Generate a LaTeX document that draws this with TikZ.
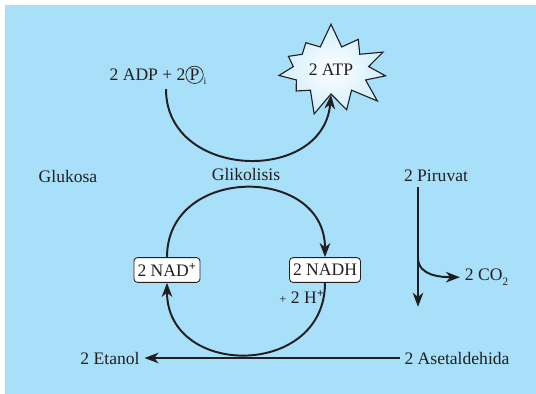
\documentclass[tikz,border=0pt]{standalone}
\usepackage{fontspec}
\setmainfont{Liberation Serif}
\usetikzlibrary{arrows.meta,shapes.symbols}

\definecolor{skyblue}{RGB}{168,224,249}
\definecolor{ink}{RGB}{35,31,32}
\newcommand{\circP}{\tikz[baseline=(cp.base)] \node [draw=ink,circle,inner sep=0.6pt,line width=0.5pt] (cp) {P};}

\begin{document}
\begin{tikzpicture}[
    every node/.style={text=ink,font=\fontsize{12.5}{14}\selectfont},
    arr/.style={draw=ink,line width=1.4pt,-{Stealth[length=10pt,width=7.5pt,inset=3pt]}},
    nadbox/.style={draw=ink,fill=white,rounded corners=2.5pt,line width=0.6pt,inner sep=2.5pt,minimum height=0.62cm}
]
    \useasboundingbox (0,0) rectangle (13.4,9.85);
    \fill [skyblue] (0.125,0) rectangle (13.4,9.725);

    % ATP yield
    \node (adp) at (3.95,7.975) {2 ADP + 2\circP\raisebox{-0.45ex}{\scriptsize i}};
    \node [starburst,starburst points=11,starburst point height=0.6cm,random starburst=7,
           draw=ink,line width=0.8pt,inner color=white,outer color=skyblue!55!white,
           minimum width=2.0cm,minimum height=2.4cm] (atp) at (8.275,8.1) {2 ATP};
    \coordinate (atpin) at ([yshift=-0.62cm]atp.center);
    \draw [arr] ([xshift=0.2cm]adp.south) to [out=-90,in=-95,looseness=1.4] (atpin);

    \node (glukosa) at (1.7,5.45) {Glukosa};
    \node (glikolisis) at (6.15,5.5) {Glikolisis};
    \node (piruvat) at (10.9,5.45) {2 Piruvat};

    % NAD cycle
    \node [nadbox] (nad) at (4.175,3.1) {2 NAD\textsuperscript{\textbf{+}}};
    \node [nadbox] (nadh) at (8.125,3.1) {2 NADH};
    \node (hplus) at (7.55,2.425) {{\small +} 2 H\textsuperscript{\textbf{+}}};
    \draw [arr] (nad.north) to [out=90,in=90,looseness=1.5] (nadh.north);
    \draw [arr] (nadh.south) to [out=-90,in=-90,looseness=1.55] (nad.south);

    % pyruvate to acetaldehyde
    \coordinate (split) at (10.45,3.4);
    \coordinate (drop) at (10.45,2.18);
    \node [anchor=west] (co2) at (11.5,2.92) {2 CO\raisebox{-0.5ex}{\footnotesize 2}};
    \draw [arr] (piruvat.south -| split) -- (drop);
    \draw [arr] (split) to [out=-90,in=180] (co2.west);

    \node (etanol) at (2.75,0.9) {2 Etanol};
    \node (asetal) at (11.425,0.9) {2 Asetaldehida};
    \draw [arr] (asetal.west) -- (etanol.east);
\end{tikzpicture}
\end{document}
